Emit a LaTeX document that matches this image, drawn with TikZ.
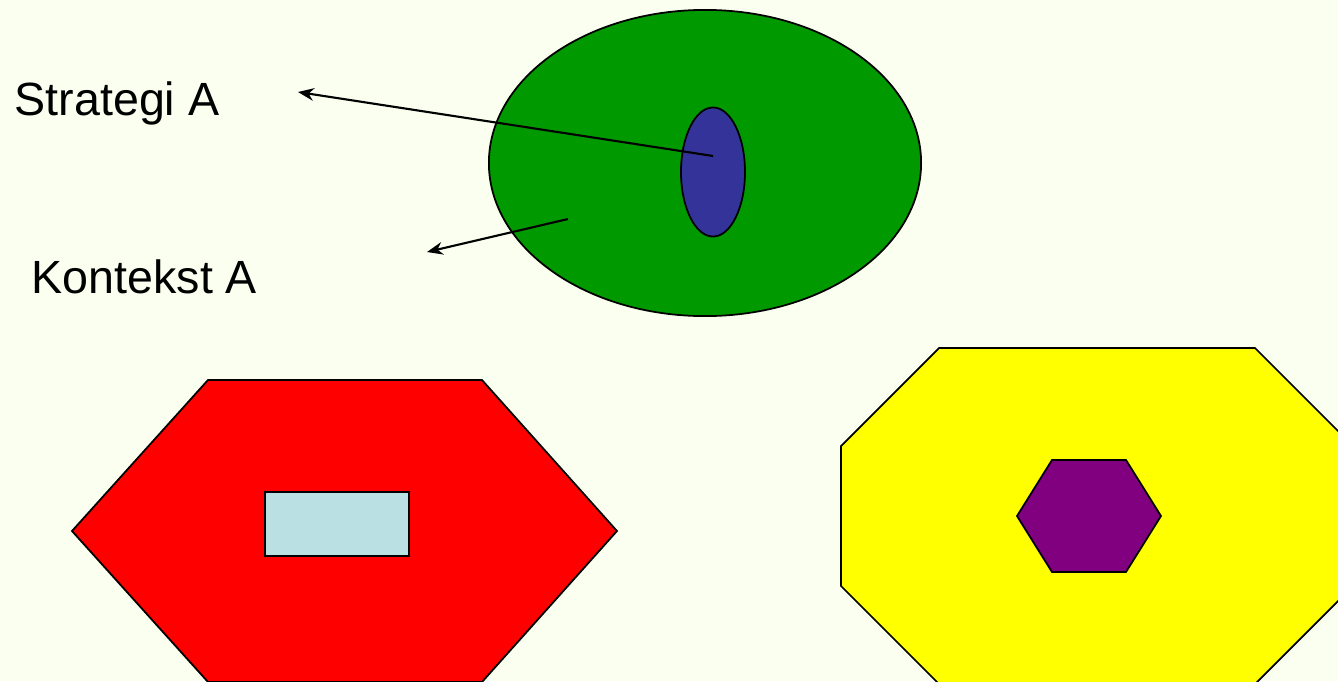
\documentclass[tikz,border=0pt]{standalone}
\usepackage{fontspec}
\setmainfont{Liberation Sans}
\usetikzlibrary{arrows.meta,positioning,shapes.geometric}
\definecolor{pagebg}{HTML}{FAFFEF}
\definecolor{ctxgreen}{HTML}{009900}
\definecolor{stratblue}{HTML}{333399}
\definecolor{hexred}{HTML}{FF0000}
\definecolor{boxblue}{HTML}{BBE0E3}
\definecolor{octyellow}{HTML}{FFFF00}
\definecolor{hexpurple}{HTML}{800080}

\begin{document}
\begin{tikzpicture}[
  x=0.01cm,y=-0.01cm,
  outline/.style={draw=black,line width=0.5pt,line join=miter},
  blob/.style={ellipse,outline,inner sep=0pt},
  lab/.style={font=\fontsize{13.25}{15}\selectfont,inner sep=0pt,anchor=base west},
  pointer/.style={line width=0.6pt,-{Stealth[length=4.5pt,width=3.6pt]}}
]
% page
\fill[pagebg] (0,0) rectangle (1338,681);
\useasboundingbox (0,0) rectangle (1338,681);

% context A with strategy A inside
\node[blob,fill=ctxgreen,minimum width=4.32cm,minimum height=3.06cm] (ctxA) at (705,163) {};
\node[blob,fill=stratblue,minimum width=0.64cm,minimum height=1.29cm] (stratA) at (713,172) {};

\node[lab] (stratlab) at (14,115) {Strategi A};
\node[lab] (ctxlab) at (31,293) {Kontekst A};

\coordinate (stratend) at (298,92);
\coordinate (ctxstart) at (568,219);
\coordinate (ctxend) at (427,252);
\draw[pointer] ([yshift=0.16cm]stratA.center) -- (stratend);
\draw[pointer] (ctxstart) -- (ctxend);

% red hexagon with box
\draw[outline,fill=hexred] (208,380) -- (482,380) -- (617,531) -- (482,682) -- (208,682) -- (72,531) -- cycle;
\node[outline,fill=boxblue,minimum width=1.44cm,minimum height=0.64cm,inner sep=0pt] (boxB) at (337,524) {};

% yellow octagon with hexagon
\draw[outline,fill=octyellow] (939,348) -- (1255,348) -- (1353,446) -- (1353,586) -- (1255,684) -- (939,684) -- (841,586) -- (841,446) -- cycle;
\draw[outline,fill=hexpurple] (1052,460) -- (1126,460) -- (1161,516) -- (1126,572) -- (1052,572) -- (1017,516) -- cycle;
\end{tikzpicture}
\end{document}
